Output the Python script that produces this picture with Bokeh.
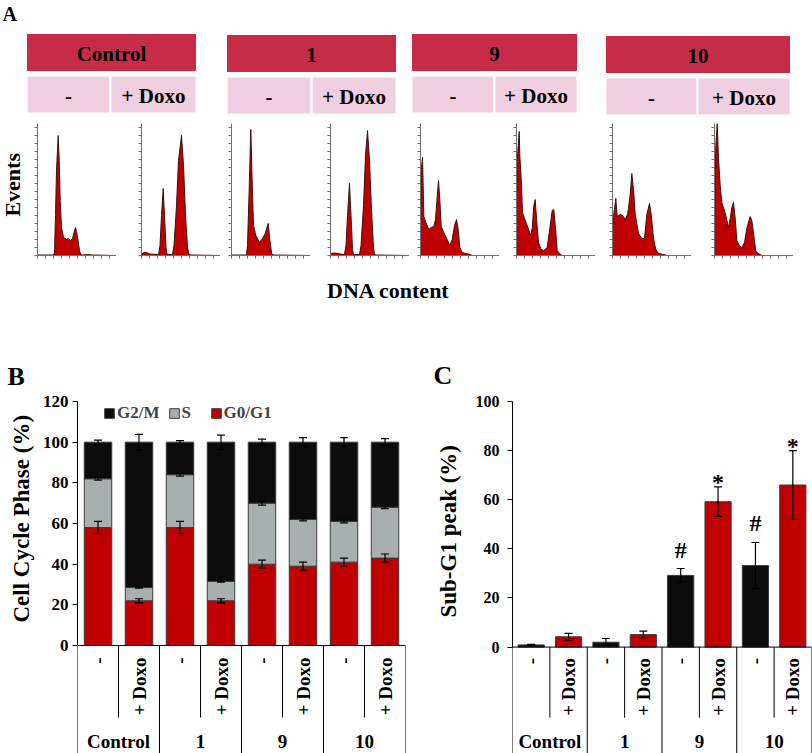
import math
from bokeh.plotting import figure
from bokeh.models import (Range1d, FactorRange, ColumnDataSource, Whisker, TeeHead, Span,
                          Legend, LegendItem, FixedTicker, SingleIntervalTicker, Spacer, Title)
from bokeh.layouts import column, row
from bokeh.embed import file_html
from bokeh.resources import INLINE
from bokeh.core.properties import value

# ------------------------------------------------------------------ data
groups = ["Control", "1", "9", "10"]
treatments = ["-", "+ Doxo"]

# Panel A: DNA-content histograms (channel, events)
ctrl_x = [0, 16, 17, 18, 19, 20.7, 21.7, 22.7, 24, 26, 29, 31, 33, 35, 36.5, 38, 39, 40.5, 42, 43, 45, 50, 55, 79]
ctrl_y = [0.5, 0.5, 3, 40, 85, 120, 95, 55, 28, 18, 16, 17, 15, 17, 23, 28, 24, 15, 5, 1.5, 0.5, 1, 0.5, 0]
ctrl_doxo_x = [0, 2, 5, 8, 17, 18.5, 20, 21.7, 23, 24.5, 25.5, 31, 32.5, 35, 37, 40, 42, 44, 46, 47.5, 50, 79]
ctrl_doxo_y = [1, 3, 3, 1.5, 1, 10, 40, 67, 40, 8, 1, 1, 10, 50, 95, 120, 90, 40, 8, 1, 0.5, 0]
c1_x = [0, 15, 16, 17.5, 19.3, 20.5, 22, 24.3, 28, 31, 33.7, 36.7, 38.3, 40.3, 43, 79]
c1_y = [0.5, 0.5, 10, 60, 126, 80, 30, 20, 13, 17, 22, 32, 16, 1, 0.5, 0]
c1_doxo_x = [0, 5, 10, 14, 15.5, 17, 19, 20.5, 22, 23, 29, 30.5, 33, 35, 37, 39, 41, 43, 44, 46, 79]
c1_doxo_y = [2, 2.5, 1.5, 1, 10, 40, 72, 40, 6, 1, 1, 10, 50, 100, 125, 95, 45, 8, 1, 0.5, 0]
c9_x = [0, 1, 2, 2.7, 3.3, 5, 8.3, 10.7, 13.3, 15, 16.7, 18, 19.3, 20.7, 23.3, 26.7, 29.3, 31.7, 34, 36, 37.7, 39.3, 41.7, 45, 50, 51.7, 79]
c9_y = [36, 88, 98, 69, 39, 34, 26, 28, 29, 36, 59, 75, 56, 29, 23, 16, 10, 16, 30, 36, 26, 8, 3, 2, 1, 0, 0]
c9_doxo_x = [0, 0.7, 2.7, 3.3, 4.7, 6, 8, 10, 11.3, 14, 15.7, 17.3, 18.7, 20, 22, 24.7, 27.3, 30.7, 33.3, 35.7, 37.3, 39, 40.7, 43, 45.7, 79]
c9_doxo_y = [40, 95, 124, 100, 77, 43, 37, 32, 28, 20, 27, 50, 56, 37, 13, 6, 5, 8, 27, 45, 46, 27, 5, 2, 0, 0]
c10_x = [0, 1, 3.3, 4.7, 7.7, 10, 12.7, 15.3, 17.7, 19.3, 21, 22.7, 26, 29.3, 32, 34.3, 37, 38.7, 41, 43.3, 46, 52.7, 54.3, 79]
c10_y = [30, 39, 57, 39, 41, 40, 36, 42, 61, 82, 66, 41, 22, 17, 17, 41, 52, 41, 17, 6, 2, 0.7, 0, 0]
c10_doxo_x = [0, 1.3, 2.7, 4, 5.7, 7.3, 9, 11.3, 14, 15.7, 17.3, 19, 20.7, 22.3, 24.7, 27.3, 30, 32.3, 35.7, 37.3, 39.7, 41.3, 44, 47.3, 79]
c10_doxo_y = [40, 110, 132, 97, 70, 53, 48, 40, 28, 37, 48, 53, 37, 15, 10, 8, 13, 27, 39, 35, 17, 4, 2, 0, 0]

# Panel B: cell-cycle phases (%)
g0g1 = [58, 22, 58, 22, 40, 39, 41, 43]
g0g1_err = [3, 1, 3, 1, 2, 2, 2, 2]
s_phase = [24, 6.5, 26, 9.5, 30, 23, 20, 25]
s_err = [0.7, 0.3, 0.7, 0.3, 1, 0.7, 0.7, 0.7]
g2m = [18, 71.5, 16, 68.5, 30, 38, 39, 32]
g2m_err = [1, 3.8, 0.8, 3.5, 1.5, 2.2, 2.2, 1.7]
b_ticks = [0, 20, 40, 60, 80, 100, 120]

# Panel C: sub-G1 peak (%)
subg1 = [0.9, 4.2, 2.0, 5.1, 29.2, 59.2, 33.2, 66]
subg1_err = [0.2, 1.4, 1.5, 1.4, 2.8, 6, 9.4, 14]
subg1_marks = ["", "", "", "", "#", "*", "#", "*"]
c_ticks = [0, 20, 40, 60, 80, 100]

# ------------------------------------------------------------------ style / layout
FONT = "Liberation Serif"
RED = "#C00000"
BLACK = "#0C0C0C"
GREY = "#A8AFAE"
HDR_RED = "#C62C48"
HDR_PINK = "#F0D0E0"
TREAT_COLOR = {"-": BLACK, "+ Doxo": RED}
MARK_OFFSET = {"#": -19, "*": -5}

PAGE_W = 812
HDR_LEFT = [26, 226, 411, 605]
HDR_RIGHT = [196, 396, 577, 790]
HDR_SPLIT = [110, 311, 494, 697]
HDR_TOP = [33, 34, 33, 35]
HDR_H = 38
HDR_GAP = 4
HIST_AXIS_X = [37, 141, 231, 330, 420, 516, 612, 714]
HIST_W = 79
HIST_H = 132

factors = [f"{g} {t}" for g in groups for t in treatments]
sub_labels = [t for g in groups for t in treatments]
hist_samples = [(ctrl_x, ctrl_y), (ctrl_doxo_x, ctrl_doxo_y), (c1_x, c1_y), (c1_doxo_x, c1_doxo_y),
                (c9_x, c9_y), (c9_doxo_x, c9_doxo_y), (c10_x, c10_y), (c10_doxo_x, c10_doxo_y)]


def blank(width, height, x0, x1, ytop, ybot):
    p = figure(width=width, height=height, x_range=Range1d(x0, x1), y_range=Range1d(ybot, ytop),
               min_border=0, toolbar_location=None, output_backend="svg",
               x_axis_type=None, y_axis_type=None)
    p.grid.visible = False
    p.outline_line_color = None
    return p


def txt(p, x, y, text, size, **kw):
    p.text(x=x, y=y, text=text, text_font=value(FONT), text_font_style="bold",
           text_font_size=size, text_color="black", **kw)


# ------------------------------------------------------------------ Panel A header
hdr = blank(PAGE_W, 122, 0, PAGE_W, 0, 122)
txt(hdr, [2], [2], ["A"], "20px", text_align="left", text_baseline="top")
hdr.quad(left=HDR_LEFT, right=HDR_RIGHT, top=HDR_TOP, bottom=[t + HDR_H for t in HDR_TOP],
         fill_color=HDR_RED, line_color="white", line_width=1)
txt(hdr, [(l + r) / 2 for l, r in zip(HDR_LEFT, HDR_RIGHT)], [t + HDR_H / 2 + 1 for t in HDR_TOP],
    groups, "21px", text_align="center", text_baseline="middle")
cl, cr, ct = [], [], []
for l, s, r, t in zip(HDR_LEFT, HDR_SPLIT, HDR_RIGHT, HDR_TOP):
    cl += [l, s]
    cr += [s, r]
    ct += [t + HDR_H + HDR_GAP] * 2
hdr.quad(left=cl, right=cr, top=ct, bottom=[t + HDR_H for t in ct],
         fill_color=HDR_PINK, line_color="white", line_width=2)
txt(hdr, [(a + b) / 2 for a, b in zip(cl, cr)], [t + HDR_H / 2 + 1 for t in ct],
    sub_labels, "21px", text_align="center", text_baseline="middle")

# ------------------------------------------------------------------ Panel A histograms
EV_W = HIST_AXIS_X[0] - 4
ev = blank(EV_W, 140, 0, EV_W, 122, 262)
txt(ev, [12], [187], ["Events"], "22px", angle=math.pi / 2, text_align="center",
    text_baseline="middle")


def hist_fig(xs, ys):
    p = figure(width=4 + HIST_W, height=1 + HIST_H + 7, x_range=Range1d(0, HIST_W),
               y_range=Range1d(0, HIST_H), min_border_left=4, min_border_right=0,
               min_border_top=1, min_border_bottom=7, toolbar_location=None,
               output_backend="svg")
    p.varea(x=xs, y1=0, y2=ys, fill_color=RED)
    p.line(x=xs, y=ys, line_color="#3a1010", line_width=1)
    for ax in (p.xaxis[0], p.yaxis[0]):
        ax.ticker = SingleIntervalTicker(interval=8, num_minor_ticks=0)
        ax.major_label_text_font_size = "1px"
        ax.major_label_text_color = None
        ax.major_label_standoff = 0
        ax.major_tick_out = 3
        ax.major_tick_in = 0
        ax.minor_tick_out = 0
        ax.minor_tick_in = 0
        ax.axis_line_color = "#707070"
        ax.major_tick_line_color = "#707070"
    p.grid.visible = False
    p.outline_line_color = None
    return p


hist_children = [ev]
prev_right = EV_W
for ax_x, (xs, ys) in zip(HIST_AXIS_X, hist_samples):
    left = ax_x - 4
    if left > prev_right:
        hist_children.append(Spacer(width=left - prev_right, height=140))
    hist_children.append(hist_fig(xs, ys))
    prev_right = left + 4 + HIST_W
if prev_right < PAGE_W:
    hist_children.append(Spacer(width=PAGE_W - prev_right, height=140))
hist_row = row(hist_children, spacing=0)

dna = blank(PAGE_W, 83, 0, PAGE_W, 262, 345)
txt(dna, [388], [290], ["DNA content"], "22px", text_align="center", text_baseline="middle")


# ------------------------------------------------------------------ helpers for B / C
def category_table(p, scale, sub_line_px, sub_label_px, group_mid_px):
    n = len(factors)
    k = len(treatments)
    xs = list(range(n + 1))
    bottom = p.y_range.start
    y1 = [bottom if i % k == 0 else -sub_line_px / scale for i in xs]
    p.segment(x0=xs, y0=[0] * len(xs), x1=xs, y1=y1, line_color="black", line_width=1)
    txt(p, factors, [-sub_label_px / scale] * n, sub_labels, "19px", angle=math.pi / 2,
        text_align="right", text_baseline="middle")
    centers = [k * (i + 0.5) for i in range(len(groups))]
    txt(p, centers, [-group_mid_px / scale] * len(groups), groups, "19px",
        text_align="center", text_baseline="middle")
    p.add_layout(Span(location=0, dimension="width", line_color="black", line_width=1))


def style_yaxis(p, ticks, bounds, label, tick_size, major_standoff, label_offset, label_standoff):
    ay = p.yaxis[0]
    ay.bounds = bounds
    ay.ticker = FixedTicker(ticks=ticks)
    ay.major_label_text_font = FONT
    ay.major_label_text_font_style = "bold"
    ay.major_label_text_font_size = tick_size
    ay.major_label_text_color = "black"
    ay.major_label_standoff = major_standoff
    ay.major_tick_out = 5
    ay.major_tick_in = 0
    ay.minor_tick_out = 0
    ay.minor_tick_in = 0
    ay.axis_line_color = "black"
    ay.major_tick_line_color = "black"
    p.add_layout(Title(text=label, align="left", offset=label_offset, standoff=label_standoff,
                       text_font=FONT, text_font_style="bold", text_font_size="23px",
                       text_color="black"), "left")
    p.xaxis.visible = False
    p.grid.visible = False
    p.outline_line_color = None


def panel_title(p, text, offset, standoff):
    p.title.text = text
    p.title.align = "left"
    p.title.offset = offset
    p.title.text_font = FONT
    p.title.text_font_style = "bold"
    p.title.text_font_size = "26px"
    p.title.text_color = "black"
    p.title.standoff = standoff


# ------------------------------------------------------------------ Panel B
B_W, B_H = 420, 408
B_LEFT, B_RIGHT, B_TOP = 77, 15, 56
B_BELOW_PX = 108
b_frame_h = B_H - B_TOP
b_scale = (b_frame_h - B_BELOW_PX) / b_ticks[-1]
pB = figure(width=B_W, height=B_H, x_range=FactorRange(factors=factors),
            y_range=Range1d(-B_BELOW_PX / b_scale, b_ticks[-1]),
            min_border_left=B_LEFT, min_border_right=B_RIGHT, min_border_top=B_TOP,
            min_border_bottom=0, toolbar_location=None, output_backend="svg")
srcB = ColumnDataSource(dict(cat=factors, g0g1=g0g1, s=s_phase, g2m=g2m))
rsB = pB.vbar_stack(["g0g1", "s", "g2m"], x="cat", width=0.67, source=srcB,
                    fill_color=[RED, GREY, BLACK], line_color="#3a3a3a", line_width=1)
s_top = [a + b for a, b in zip(g0g1, s_phase)]
g_top = [a + b + c for a, b, c in zip(g0g1, s_phase, g2m)]
centers = g0g1 + s_top + g_top
errs = g0g1_err + s_err + g2m_err
wB = ColumnDataSource(dict(base=factors * 3, upper=[c + e for c, e in zip(centers, errs)],
                           lower=[c - e for c, e in zip(centers, errs)]))
pB.add_layout(Whisker(source=wB, base="base", upper="upper", lower="lower", level="overlay",
                      line_color="black", line_width=1.2,
                      upper_head=TeeHead(size=8, line_color="black", line_width=1.2),
                      lower_head=TeeHead(size=8, line_color="black", line_width=1.2)))
category_table(pB, b_scale, 72, 12, 96)
style_yaxis(pB, b_ticks, (0, b_ticks[-1]), "Cell Cycle Phase (%)", "17px", 4, 131, 12)
legB = Legend(items=[LegendItem(label="G2/M", renderers=[rsB[2]]),
                     LegendItem(label="S", renderers=[rsB[1]]),
                     LegendItem(label="G0/G1", renderers=[rsB[0]])],
              location=(26, 330), orientation="horizontal", border_line_color=None,
              background_fill_alpha=0, label_text_font=FONT, label_text_font_style="bold",
              label_text_font_size="17px", glyph_width=12, glyph_height=12, label_height=14,
              label_standoff=2, spacing=8, padding=0, margin=0)
pB.add_layout(legB)
panel_title(pB, "B", -(B_LEFT - 7), 22)

# ------------------------------------------------------------------ Panel C
C_W, C_H = 392, 408
C_LEFT, C_RIGHT, C_TOP = 92, 1, 54
C_BELOW_PX = 107
c_frame_h = C_H - C_TOP
c_scale = (c_frame_h - C_BELOW_PX) / c_ticks[-1]
pC = figure(width=C_W, height=C_H, x_range=FactorRange(factors=factors),
            y_range=Range1d(-C_BELOW_PX / c_scale, c_ticks[-1]),
            min_border_left=C_LEFT, min_border_right=C_RIGHT, min_border_top=C_TOP,
            min_border_bottom=0, toolbar_location=None, output_backend="svg")
srcC = ColumnDataSource(dict(cat=factors, v=subg1, color=[TREAT_COLOR[t] for t in sub_labels]))
pC.vbar(x="cat", top="v", width=0.7, source=srcC, fill_color="color",
        line_color="#3a3a3a", line_width=1)
wC = ColumnDataSource(dict(base=factors, upper=[v + e for v, e in zip(subg1, subg1_err)],
                           lower=[v - e for v, e in zip(subg1, subg1_err)]))
pC.add_layout(Whisker(source=wC, base="base", upper="upper", lower="lower", level="overlay",
                      line_color="black", line_width=1.2,
                      upper_head=TeeHead(size=8, line_color="black", line_width=1.2),
                      lower_head=TeeHead(size=8, line_color="black", line_width=1.2)))
mk = [(f, v + e, m) for f, v, e, m in zip(factors, subg1, subg1_err, subg1_marks) if m]
txt(pC, [a for a, _, _ in mk], [b for _, b, _ in mk], [c for _, _, c in mk], "24px",
    y_offset=[MARK_OFFSET[c] for _, _, c in mk], text_align="center", text_baseline="middle")
category_table(pC, c_scale, 71, 11, 95)
style_yaxis(pC, c_ticks, (0, c_ticks[-1]), "Sub-G1 peak (%)", "16px", 8, 136, 24)
panel_title(pC, "C", -(C_LEFT - 13), 23)

layout = column([hdr, hist_row, dna, row([pB, pC], spacing=0)], spacing=0)

open("out.html", "w").write(file_html(layout, INLINE))
